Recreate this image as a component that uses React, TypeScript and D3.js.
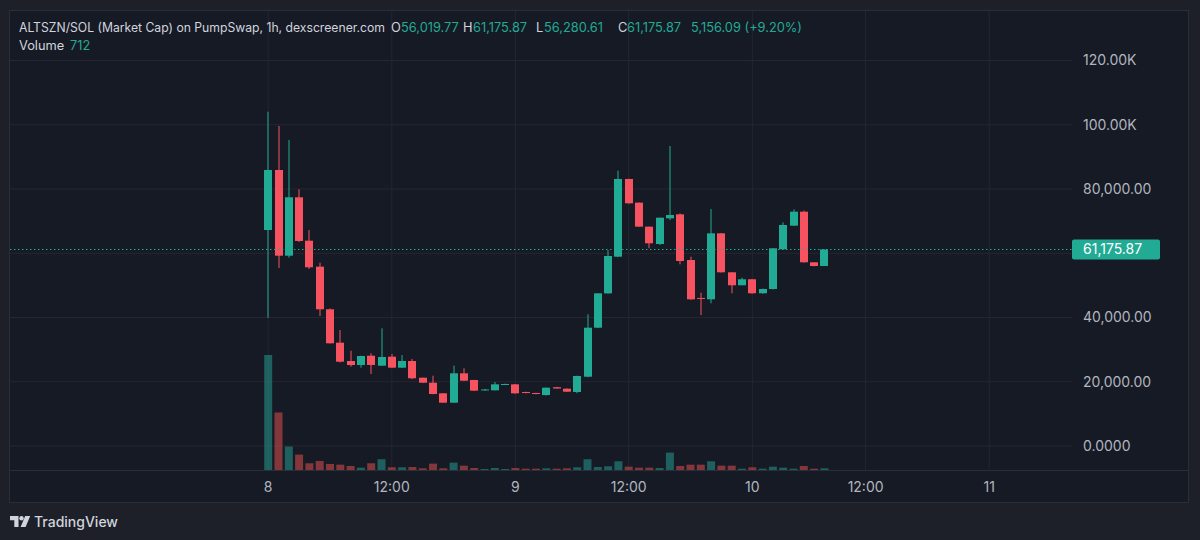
import React from "react"
import * as d3 from "d3"

// hourly candles, index 0 = day 8 00:00
const opens = [
  67240, 85920, 59240, 77420, 63910, 55830, 42560, 32160, 26460, 25220,
  28110, 25000, 27800, 24380, 26460, 21260, 19700, 16400, 13480, 22630,
  20550, 17300, 17340, 19100, 19200, 16800, 16500, 15870, 18300, 17840,
  16810, 21570, 36830, 47520, 58930, 83120, 75750, 68270, 62880, 70870,
  72110, 57900, 46090, 45660, 66200, 54070, 50030, 51900, 47540, 48870,
  61230, 68590, 72940, 57180, 56019.77,
]
const highs = [
  104070, 99620, 95260, 79910, 67240, 57060, 42800, 36110, 29670, 28100,
  28850, 36630, 28640, 28330, 27080, 21300, 21890, 16500, 25000, 24190,
  20600, 17800, 19920, 19400, 19300, 16900, 16600, 18200, 18400, 17900,
  21900, 41000, 47600, 61000, 85700, 83200, 75800, 68300, 71100, 93390,
  72400, 58930, 47720, 73770, 66300, 54100, 52400, 52000, 49000, 61600,
  69640, 73670, 73250, 57200, 61175.87,
]
const lows = [
  39850, 55410, 58620, 63500, 55100, 40470, 31900, 26000, 24690, 24380,
  22410, 24900, 24300, 24300, 20800, 19600, 16100, 13400, 13400, 20200,
  17100, 17200, 17300, 19000, 16300, 16400, 16100, 15700, 17800, 16800,
  16400, 21400, 36700, 47400, 58800, 75400, 68200, 61540, 62570, 70350,
  56560, 45500, 40780, 44420, 54000, 47540, 50000, 47400, 47400, 48700,
  61100, 68500, 57100, 55900, 56280.61,
]
const closes = [
  85920, 59240, 77420, 63820, 55630, 42560, 31970, 26240, 25200, 28020,
  25220, 27700, 24380, 26460, 21080, 19700, 16190, 13480, 22630, 20330,
  17220, 17600, 19200, 19300, 16400, 16500, 16200, 18150, 17900, 16900,
  21790, 36830, 47520, 59150, 83120, 75550, 68280, 63100, 71070, 71900,
  57590, 45660, 45800, 66200, 54070, 50030, 51900, 47540, 48870, 61540,
  68800, 72940, 57180, 56030, 61175.87,
]
const volumes = [
  48000, 24000, 9800, 6430, 2810, 3780, 2520, 2230, 1680, 970,
  2810, 4490, 1130, 1130, 1260, 710, 2650, 710, 3070, 1810,
  840, 420, 840, 420, 840, 550, 550, 710, 550, 710,
  1130, 4490, 1260, 1550, 3650, 1390, 970, 970, 840, 7270,
  1680, 2230, 2230, 3650, 1810, 1810, 550, 1130, 550, 1390,
  970, 550, 1680, 550, 712,
]
// bar 42 closes marginally below its open; keep it red as drawn
const downBars = new Set([42])

const timeTickIndex = [0, 12, 24, 35, 47, 58, 70]
const timeTickLabels = ["8", "12:00", "9", "12:00", "10", "12:00", "11"]

const priceTicks = [0, 20000, 40000, 60000, 80000, 100000, 120000]
const priceTickLabels = ["0.0000", "20,000.00", "40,000.00", "", "80,000.00", "100.00K", "120.00K"]

const lastPrice = 61175.87
const lastPriceLabel = "61,175.87"

const UP = "#22ab94"
const DOWN = "#f7525f"
const UP_VOL = "rgba(38,166,154,0.5)"
const DOWN_VOL = "rgba(239,83,80,0.5)"
const GRID = "#242733"
const BORDER = "#2a2e39"
const TEXT = "#d1d4dc"
const AXIS_TEXT = "#b2b5be"
const FONT = "Inter, 'Noto Sans', sans-serif"

const W = 1200
const H = 540
const pane = { left: 10, top: 10, right: 1072, bottom: 470 }
const frameRight = 1189
const frameBottom = 502

export default function App() {
  const x = d3.scaleLinear().domain([0, 70]).range([268.2, 989.2])
  const y = d3.scaleLinear().domain([0, 120000]).range([446, 60.5])
  const paneH = pane.bottom - pane.top
  const vol = d3
    .scaleLinear()
    .domain([0, d3.max(volumes) || 1])
    .range([pane.bottom, pane.bottom - paneH * 0.25])

  const bodyW = 8

  const isUp = (i: number) => !downBars.has(i) && closes[i] >= opens[i]

  return (
    <div style={{ position: "fixed", left: 0, top: 0, width: W, height: H }}>
      <svg width={W} height={H} style={{ display: "block", fontFamily: FONT }}>
        <rect width={W} height={H} fill="#1d2029" />
        <rect
          x={pane.left}
          y={pane.top}
          width={frameRight - pane.left}
          height={frameBottom - pane.top}
          fill="#161a25"
        />

        {/* grid */}
        {priceTicks.map((t) => (
          <line key={"h" + t} x1={pane.left} x2={pane.right} y1={y(t)} y2={y(t)} stroke={GRID} />
        ))}
        {timeTickIndex.map((t) => (
          <line key={"v" + t} x1={x(t)} x2={x(t)} y1={pane.top} y2={pane.bottom} stroke={GRID} />
        ))}

        {/* volume */}
        {volumes.map((v, i) => (
          <rect
            key={"vol" + i}
            x={x(i) - bodyW / 2}
            y={vol(v)}
            width={bodyW}
            height={pane.bottom - vol(v)}
            fill={isUp(i) ? UP_VOL : DOWN_VOL}
          />
        ))}

        {/* candles */}
        {opens.map((o, i) => {
          const c = closes[i]
          const col = isUp(i) ? UP : DOWN
          const top = y(Math.max(o, c))
          const bot = y(Math.min(o, c))
          const cx = Math.round(x(i))
          return (
            <g key={"c" + i}>
              <line
                x1={cx}
                x2={cx}
                y1={y(highs[i])}
                y2={y(Math.min(lows[i], o, c))}
                stroke={col}
                strokeWidth={1}
              />
              <rect x={cx - bodyW / 2} y={top} width={bodyW} height={Math.max(1, bot - top)} fill={col} />
            </g>
          )
        })}

        {/* last price line */}
        <line
          x1={pane.left}
          x2={pane.right}
          y1={y(lastPrice)}
          y2={y(lastPrice)}
          stroke={UP}
          strokeDasharray="1.5 2.5"
        />

        {/* header legend */}
        <text x={19} y={31.5} fontSize={12.4} fill={TEXT} textLength={366} lengthAdjust="spacingAndGlyphs">
          ALTSZN/SOL (Market Cap) on PumpSwap, 1h, dexscreener.com
        </text>
        <g fontSize={12.8}>
          <text x={391} y={31.5} fill={TEXT}>O</text>
          <text x={401} y={31.5} fill={UP}>56,019.77</text>
          <text x={463} y={31.5} fill={TEXT}>H</text>
          <text x={473} y={31.5} fill={UP}>61,175.87</text>
          <text x={536} y={31.5} fill={TEXT}>L</text>
          <text x={544} y={31.5} fill={UP}>56,280.61</text>
          <text x={618} y={31.5} fill={TEXT}>C</text>
          <text x={627} y={31.5} fill={UP}>61,175.87</text>
          <text x={691} y={31.5} fill={UP}>5,156.09 (+9.20%)</text>
          <text x={19} y={49.5} fill={TEXT}>Volume</text>
          <text x={70} y={49.5} fill={UP}>712</text>
        </g>

        {/* price axis */}
        {priceTicks.map((t, i) =>
          priceTickLabels[i] ? (
            <text key={"pl" + t} x={1083} y={y(t)} dy="0.35em" fontSize={14} fill={AXIS_TEXT}>
              {priceTickLabels[i]}
            </text>
          ) : null
        )}
        <rect x={1072} y={y(lastPrice) - 10} width={88} height={20} rx={2} fill={UP} />
        <text x={1083} y={y(lastPrice)} dy="0.35em" fontSize={14} fill="#ffffff">
          {lastPriceLabel}
        </text>

        {/* time axis */}
        <line x1={pane.left} x2={frameRight} y1={pane.bottom + 0.5} y2={pane.bottom + 0.5} stroke={BORDER} />
        {timeTickIndex.map((t, i) => (
          <text key={"tl" + i} x={x(t)} y={487} dy="0.35em" fontSize={14} textAnchor="middle" fill={AXIS_TEXT}>
            {timeTickLabels[i]}
          </text>
        ))}

        {/* frame */}
        <rect
          x={pane.left - 0.5}
          y={pane.top + 0.5}
          width={frameRight - pane.left}
          height={frameBottom - pane.top}
          fill="none"
          stroke={BORDER}
        />

        {/* TradingView mark */}
        <g fill={TEXT}>
          <path d="M10 516 h8.5 v11 h-4.2 v-6.8 h-4.3 z" />
          <circle cx={21.5} cy={518.2} r={2.2} />
          <path d="M25.2 516 h5 l-4.6 11 h-5 z" />
        </g>
        <text x={34} y={522} dy="0.35em" fontSize={14} fontWeight={500} fill={TEXT}>
          TradingView
        </text>
      </svg>
    </div>
  )
}
